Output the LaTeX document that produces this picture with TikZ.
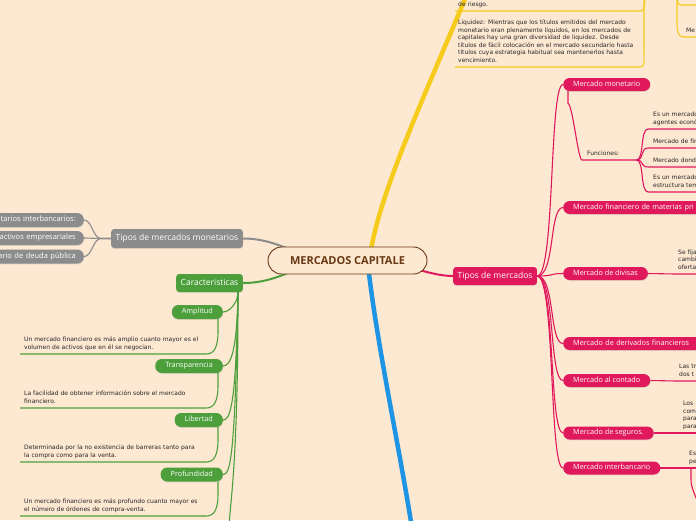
\documentclass[tikz,border=0pt]{standalone}
\usepackage{fontspec}
\setmainfont{Open Sans}
\newfontfamily\memofont{DejaVu Sans}
\usetikzlibrary{calc, shadows, backgrounds}

\definecolor{bgpeach}{HTML}{FDE8D2}
\definecolor{capbrown}{HTML}{6A3913}
\definecolor{mapyellow}{HTML}{F7CB1C}
\definecolor{mapblue}{HTML}{1E95E4}
\definecolor{mapgray}{HTML}{8C8C8C}
\definecolor{mapgreen}{HTML}{4C9F3A}
\definecolor{mappink}{HTML}{E0195C}
\definecolor{memogray}{HTML}{262626}

\begin{document}
\begin{tikzpicture}[
		x=1pt, y=-1pt,
		capnode/.style={rectangle, rounded corners=13.5pt, draw=capbrown, line width=0.9pt, fill=bgpeach,
			minimum width=159pt, minimum height=27pt, text=capbrown, font=\fontsize{11}{13}\selectfont\bfseries},
		topic/.style={rectangle, rounded corners=3pt, minimum height=18pt, inner xsep=4.5pt, inner ysep=0pt,
			text height=6.3pt, text depth=1.9pt, text=white, font=\fontsize{8.5}{10}\selectfont,
			drop shadow={shadow xshift=0.3pt, shadow yshift=-0.9pt, opacity=0.2}},
		subtopic/.style={rectangle, rounded corners=6.5pt, minimum height=13pt, inner xsep=10pt, inner ysep=0pt,
			text height=5.4pt, text depth=1.6pt, text=white, font=\fontsize{7.25}{9}\selectfont,
			drop shadow={shadow xshift=0.3pt, shadow yshift=-0.9pt, opacity=0.2}},
		graysub/.style={subtopic, fill=mapgray, anchor=east, minimum height=14pt, inner xsep=8pt,
			text width=110pt, align=right, font=\fontsize{7.5}{9}\selectfont},
		memo/.style={anchor=south west, align=left, inner xsep=3pt, inner ysep=2.2pt, text=memogray,
			font=\memofont\fontsize{6}{7.5}\selectfont, execute at end node=\strut},
		trunk/.style={line width=4.5pt, line cap=round},
		limb/.style={line width=2pt, line cap=round},
		twig/.style={line width=1.1pt}
		]
		
		\useasboundingbox (0,0) rectangle (696,520);
		\clip (0,0) rectangle (696,520);
		
		% Central node
		\node[capnode] (cap) at (347.5,260.5) {MERCADOS CAPITALE};
		
		% Main topics
		\node[topic, fill=mappink, anchor=west] (tipos) at (453,276) {Tipos de mercados};
		\node[topic, fill=mapgray, anchor=east, minimum height=19pt] (tmon) at (243,238.5) {Tipos de mercados monetarios};
		\node[topic, fill=mapgreen, anchor=east] (carac) at (243,283) {Caracteristicas};
		
		% Gray branch (cut at the left border)
		\node[graysub] (interb) at (84,220) {tarios interbancarios:};
		\node[graysub] (activos) at (84,238) {activos empresariales};
		\node[graysub] (deuda) at (84,256.5) {ario de deuda pública};
		
		% Green branch
		\node[subtopic, fill=mapgreen, anchor=east, minimum height=14pt] (amplitud) at (223,312) {Amplitud};
		\node[subtopic, fill=mapgreen, anchor=east, minimum height=14pt] (transp) at (223,366) {Transparencia};
		\node[subtopic, fill=mapgreen, anchor=east, minimum height=14pt] (libertad) at (223,420) {Libertad};
		\node[subtopic, fill=mapgreen, anchor=east, minimum height=14pt] (profund) at (223,474.5) {Profundidad};
		
		\node[memo, text width=178pt, inner xsep=4pt] (amplitudTxt) at (20,354) {Un mercado financiero es más amplio cuanto mayor es el\\volumen de activos que en él se negocian.};
		\node[memo, text width=178pt, inner xsep=4pt] (transpTxt) at (20,408) {La facilidad de obtener información sobre el mercado\\financiero.};
		\node[memo, text width=178pt, inner xsep=4pt] (libertadTxt) at (20,462) {Determinada por la no existencia de barreras tanto para\\la compra como para la venta.};
		\node[memo, text width=178pt, inner xsep=4pt] (profundTxt) at (20,516) {Un mercado financiero es más profundo cuanto mayor es\\el número de órdenes de compra-venta.};
		
		% Pink branch
		\node[subtopic, fill=mappink, anchor=west] (monetario) at (563,84.5) {Mercado monetario};
		\node[subtopic, fill=mappink, anchor=west, text width=150pt, align=left] (materias) at (563,207.5) {Mercado financiero de materias pri};
		\node[subtopic, fill=mappink, anchor=west] (divisas) at (563,273.5) {Mercado de divisas};
		\node[subtopic, fill=mappink, anchor=west, text width=140pt, align=left] (derivados) at (563,343.5) {Mercado de derivados financieros};
		\node[subtopic, fill=mappink, anchor=west] (contado) at (563,380.5) {Mercado al contado};
		\node[subtopic, fill=mappink, anchor=west] (seguros) at (563,433) {Mercado de seguros.};
		\node[subtopic, fill=mappink, anchor=west] (interbancario) at (563,468) {Mercado interbancario};
		
		\node[memo, text width=44pt, inner xsep=5pt] (funciones) at (582,160) {Funciones:};
		\node[memo, text width=60pt, inner xsep=5pt] (agentes) at (648,129) {Es un mercado\\agentes econó};
		\node[memo, text width=60pt, inner xsep=5pt] (fin) at (648,148) {Mercado de fin};
		\node[memo, text width=60pt, inner xsep=5pt] (donde) at (648,167) {Mercado donde};
		\node[memo, text width=60pt, inner xsep=5pt] (estructura) at (648,192) {Es un mercado\\estructura tem};
		
		\node[memo, text width=40pt] (fija) at (675,274) {Se fija\\cambi\\oferta};
		\node[memo, text width=40pt] (trans) at (676,381) {Las tr\\dos t};
		\node[memo, text width=40pt] (losNote) at (680,433) {Los\\com\\para\\para};
		\node[memo, text width=40pt] (esNote) at (686,468) {Es\\pe};
		
		% Yellow branch notes (top)
		\node[memo, text width=180pt] (riesgo) at (455,11) {de riesgo.};
		\node[memo, text width=178pt] (liquidez) at (455,67) {Liquidez: Mientras que los títulos emitidos del mercado\\monetario eran plenamente líquidos, en los mercados de\\capitales hay una gran diversidad de liquidez. Desde\\títulos de fácil colocación en el mercado secundario hasta\\títulos cuya estrategia habitual sea mantenerlos hasta\\vencimiento.};
		\node[memo, text width=30pt] (maNote) at (681,5) {Ma};
		\node[memo, text width=30pt] (meNote) at (683,37) {Me};
		
		% Free ends of branches that leave the picture
		\coordinate (yellowEnd) at (468,-8);
		\coordinate (blueEnd) at (412,528);
		\coordinate (greenEnd) at (229,528);
		\coordinate (pinkEnd) at (699,505);
		\coordinate (yellowTopA) at (645,-8);
		\coordinate (yellowTopB) at (644,-8);
		\coordinate (yellowTopC) at (677,-8);
		
		\begin{scope}[on background layer]
			\fill[bgpeach] (0,0) rectangle (696,520);
			
			% Branches from the centre
			\draw[trunk, mapyellow] ($(cap.center)+(22,0)$) .. controls (376,200) and (425,95) .. (yellowEnd);
			\draw[trunk, mapblue] ($(cap.center)+(20,0)$) .. controls (376,340) and (398,440) .. (blueEnd);
			\draw[limb, mapgray] ($(cap.center)+(-40,-3)$) .. controls (280,244) and (262,238.5) .. (tmon.east);
			\draw[limb, mapgreen] ($(cap.center)+(-40,3)$) .. controls (280,278) and (262,283) .. (carac.east);
			\draw[limb, mappink] ($(cap.center)+(50,3)$) .. controls (425,272) and (440,276) .. (tipos.west);
			
			% Gray children
			\draw[twig, mapgray] (tmon.west) -- ++(-10,0) .. controls +(-8,0) and +(8,0) .. (interb.east);
			\draw[twig, mapgray] (tmon.west) -- ++(-10,0) .. controls +(-8,0) and +(8,0) .. (activos.east);
			\draw[twig, mapgray] (tmon.west) -- ++(-10,0) .. controls +(-8,0) and +(8,0) .. (deuda.east);
			
			% Green children
			\draw[twig, mapgreen] ([xshift=-5pt]carac.south east) .. controls ($(amplitud.east)+(15,-10)$) and ($(amplitud.east)+(7,0)$) .. (amplitud.east);
			\draw[twig, mapgreen] ([xshift=-5pt]carac.south east) .. controls ($(transp.east)+(14,-12)$) and ($(transp.east)+(7,0)$) .. (transp.east);
			\draw[twig, mapgreen] ([xshift=-5pt]carac.south east) .. controls ($(libertad.east)+(13,-12)$) and ($(libertad.east)+(7,0)$) .. (libertad.east);
			\draw[twig, mapgreen] ([xshift=-5pt]carac.south east) .. controls ($(profund.east)+(12,-12)$) and ($(profund.east)+(7,0)$) .. (profund.east);
			\draw[twig, mapgreen] ([xshift=-5pt]carac.south east) .. controls (238,470) and (230,500) .. (greenEnd);
			
			\draw[twig, mapgreen] ([xshift=-5pt]amplitud.south east) -- ++(0,13) .. controls +(0,14) and +(8,0) .. (amplitudTxt.south east) -- (amplitudTxt.south west);
			\draw[twig, mapgreen] ([xshift=-5pt]transp.south east) -- ++(0,13) .. controls +(0,14) and +(8,0) .. (transpTxt.south east) -- (transpTxt.south west);
			\draw[twig, mapgreen] ([xshift=-5pt]libertad.south east) -- ++(0,13) .. controls +(0,14) and +(8,0) .. (libertadTxt.south east) -- (libertadTxt.south west);
			\draw[twig, mapgreen] ([xshift=-5pt]profund.south east) -- ++(0,13) .. controls +(0,14) and +(8,0) .. (profundTxt.south east) -- (profundTxt.south west);
			
			% Pink children
			\draw[twig, mappink] (tipos.east) .. controls +(18,0) and +(-14,0) .. (monetario.west);
			\draw[twig, mappink] (tipos.east) .. controls +(18,0) and +(-14,0) .. (materias.west);
			\draw[twig, mappink] (tipos.east) .. controls +(18,0) and +(-14,0) .. (divisas.west);
			\draw[twig, mappink] (tipos.east) .. controls +(18,0) and +(-14,0) .. (derivados.west);
			\draw[twig, mappink] (tipos.east) .. controls +(18,0) and +(-14,0) .. (contado.west);
			\draw[twig, mappink] (tipos.east) .. controls +(18,0) and +(-14,0) .. (seguros.west);
			\draw[twig, mappink] (tipos.east) .. controls +(18,0) and +(-14,0) .. (interbancario.west);
			
			\draw[twig, mappink] ([xshift=5pt]monetario.south west) -- ++(0,12) .. controls +(5,3) and +(-4,0) .. (funciones.south west) -- (funciones.south east);
			\draw[twig, mappink] (funciones.south east) .. controls +(8,0) and +(-8,0) .. (agentes.south west) -- (agentes.south east);
			\draw[twig, mappink] (funciones.south east) .. controls +(8,0) and +(-8,0) .. (fin.south west) -- (fin.south east);
			\draw[twig, mappink] (funciones.south east) .. controls +(8,0) and +(-8,0) .. (donde.south west) -- (donde.south east);
			\draw[twig, mappink] (funciones.south east) .. controls +(8,0) and +(-8,0) .. (estructura.south west) -- (estructura.south east);
			
			\draw[twig, mappink] (divisas.east) -- (fija.south west) -- (fija.south east);
			\draw[twig, mappink] (contado.east) -- (trans.south west) -- (trans.south east);
			\draw[twig, mappink] (seguros.east) -- (losNote.south west) -- (losNote.south east);
			\draw[twig, mappink] (interbancario.east) -- (esNote.south west) -- (esNote.south east);
			\draw[twig, mappink] (interbancario.east -| 691,0) -- ++(0,12) .. controls +(0,8) and +(-3,-8) .. (pinkEnd);
			
			% Yellow notes
			\draw[twig, mapyellow] (riesgo.south west) -- (riesgo.south east) .. controls +(4,0) and +(0,8) .. (yellowTopA);
			\draw[twig, mapyellow] (liquidez.south west) -- (liquidez.south east) .. controls +(6,0) and +(0,10) .. (644,52) -- (yellowTopB);
			\draw[twig, mapyellow] (yellowTopC) .. controls (677,2) and (678,5) .. (maNote.south west) -- (maNote.south east);
			\draw[twig, mapyellow] (yellowTopC) -- (677,24) .. controls (677,32) and (679,37) .. (meNote.south west) -- (meNote.south east);
		\end{scope}
		
	\end{tikzpicture}
\end{document}
